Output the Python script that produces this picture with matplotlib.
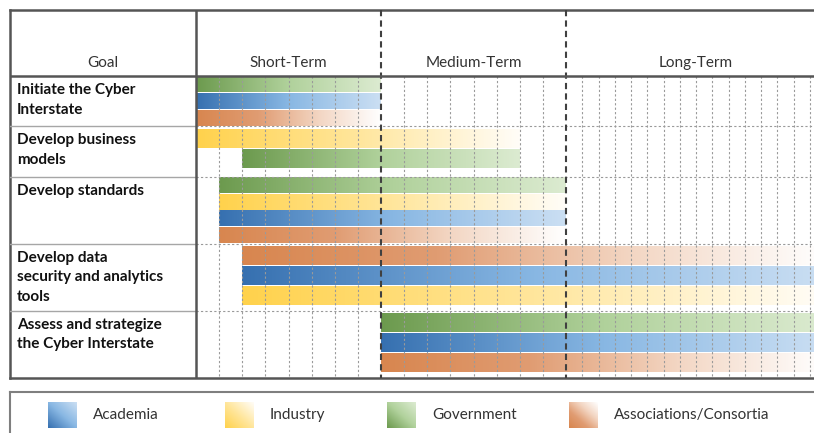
import numpy as np
import matplotlib
matplotlib.use("Agg")
import matplotlib.pyplot as plt
from matplotlib.colors import LinearSegmentedColormap

plt.rcParams['font.family'] = ['Lato', 'DejaVu Sans']

# ---- data ----
goals = ["Initiate the Cyber\nInterstate",
         "Develop business\nmodels",
         "Develop standards",
         "Develop data\nsecurity and analytics\ntools",
         "Assess and strategize\nthe Cyber Interstate"]
row_lanes = [3, 3, 4, 4, 4]

terms = ["Short-Term", "Medium-Term", "Long-Term"]
term_bounds = [0, 8, 16, 27.25]
term_cols = [8, 8, 16]

groups = ["Academia", "Industry", "Government", "Associations/Consortia"]
group_colors = {"Academia": ["#3670b0", "#88b7e3", "#cbdff3"],
                "Industry": ["#ffd24c", "#ffe69c", "#fffdf8"],
                "Government": ["#6c9a4e", "#b0d19b", "#dcebd1"],
                "Associations/Consortia": ["#d8864f", "#e09c72", "#f3d6c3", "#ffffff"]}

bar_row = [0, 0, 0, 1, 1, 2, 2, 2, 2, 3, 3, 3, 4, 4, 4]
bar_group = ["Government", "Academia", "Associations/Consortia",
             "Industry", "Government",
             "Government", "Industry", "Academia", "Associations/Consortia",
             "Associations/Consortia", "Academia", "Industry",
             "Government", "Academia", "Associations/Consortia"]
bar_start = [0, 0, 0, 0, 2, 1, 1, 1, 1, 2, 2, 2, 8, 8, 8]
bar_end = [8, 8, 8, 14, 14, 16, 16, 16, 16, 27.25, 27.25, 27.25, 27.25, 27.25, 27.25]

# ---- layout ----
W, H = 814, 433
COL_PX = 185 / 8.0
LANE_PX = 302 / 18.0
DARK = "#555555"
FS = 11


def px_box(x0, y0, x1, y1):
    return [x0 / W, 1 - y1 / H, (x1 - x0) / W, (y1 - y0) / H]


cmaps = {g: LinearSegmentedColormap.from_list(g, c) for g, c in group_colors.items()}

fig = plt.figure(figsize=(W / 100, H / 100), dpi=100)
ax = fig.add_axes(px_box(10, 10, 814, 378))
x_left = -186 / COL_PX
y_head = -66 / LANE_PX
total_lanes = sum(row_lanes)

row_top = np.concatenate([[0], np.cumsum(row_lanes)[:-1]])

# bars, stacked inside their goal row
grad = np.linspace(0, 1, 256).reshape(1, -1)
for i, (r, g, s, e) in enumerate(zip(bar_row, bar_group, bar_start, bar_end)):
    n = bar_row.count(r)
    j = i - bar_row.index(r)
    slot = min(row_lanes[r] / n, 1.2)
    pad = 0.0 if slot < 1.2 else 0.12
    y0 = row_top[r] + pad + j * slot + 0.04
    y1 = y0 + slot * 0.92
    ax.imshow(grad, extent=[s, e, y1, y0], cmap=cmaps[g], aspect='auto',
              interpolation='bilinear', zorder=2)

# grid lines
for t in range(3):
    xs = np.linspace(term_bounds[t], term_bounds[t + 1], term_cols[t] + 1)[1:-1]
    for x in xs:
        ax.plot([x, x], [0, total_lanes], color="#9a9a9a", lw=0.8,
                ls=(0, (2, 2)), zorder=3)
for b in row_top[1:]:
    ax.plot([0, 40], [b, b], color="#9a9a9a", lw=0.8, ls=(0, (2, 2)), zorder=3)
    ax.plot([x_left, 0], [b, b], color="#a6a6a6", lw=1.0, zorder=3)
for x in term_bounds[1:3]:
    ax.plot([x, x], [y_head, total_lanes], color="#404040", lw=1.5,
            ls=(0, (3, 2)), zorder=4)
ax.plot([0, 0], [y_head, total_lanes], color=DARK, lw=1.8, zorder=4)
ax.plot([x_left, 40], [0, 0], color=DARK, lw=1.8, zorder=4)

# header texts
ax.text(x_left / 2, -0.8, "Goal", ha='center', va='center', fontsize=FS, color="#333333")
for t, name in enumerate(terms):
    ax.text((term_bounds[t] + term_bounds[t + 1]) / 2, -0.8, name, ha='center',
            va='center', fontsize=FS, color="#333333")

for r, label in enumerate(goals):
    ax.text(x_left + 0.3, row_top[r] + 0.42, label, ha='left', va='top',
            fontsize=FS, fontweight='bold', color="#111111", linespacing=1.5)

ax.set_xlim(x_left, 618 / COL_PX)
ax.set_ylim(total_lanes, y_head)
ax.set_xticks([])
ax.set_yticks([])
ax.spines['right'].set_visible(False)
for sp in ['left', 'top', 'bottom']:
    ax.spines[sp].set_color(DARK)
    ax.spines[sp].set_linewidth(1.8)

# legend
lax = fig.add_axes(px_box(10, 392, 830, 460))
lax.set_xticks([])
lax.set_yticks([])
lax.spines['right'].set_visible(False)
lax.spines['bottom'].set_visible(False)
for sp in ['left', 'top']:
    lax.spines[sp].set_color("#7f7f7f")
    lax.spines[sp].set_linewidth(1.5)
n = 64
xx = np.linspace(0, 1, n)[None, :]
yy = np.linspace(1, 0, n)[:, None]
patch_grad = (xx + yy) / 2
legend_x = [38, 215, 377, 559]
for g, lx in zip(groups, legend_x):
    lax.imshow(patch_grad, extent=[lx, lx + 29, 36, 10], cmap=cmaps[g],
               aspect='auto', interpolation='bilinear')
    lax.text(lx + 45, 23, g, ha='left', va='center', fontsize=FS, color="#333333")
lax.set_xlim(0, 820)
lax.set_ylim(68, 0)

fig.savefig("out.png", dpi=100)
